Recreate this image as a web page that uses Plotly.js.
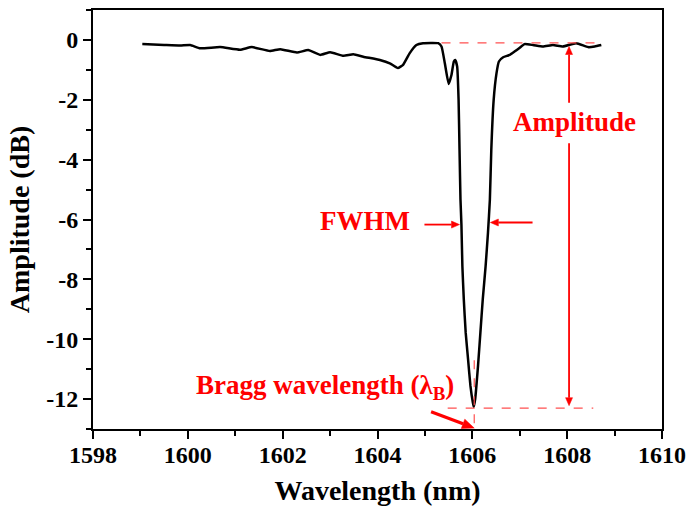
<!DOCTYPE html>
<html>
<head>
<meta charset="utf-8">
<script src="https://cdn.plot.ly/plotly-3.0.1.min.js"></script>
<style>html,body{margin:0;padding:0;background:#fff;}</style>
</head>
<body>
<div id="chart" style="width:688px;height:506px;"></div>
<script>
// Measured spectrum (wavelength in nm, amplitude in dB)
const wavelength = [
  1599.04, 1599.5, 1599.84, 1600.05, 1600.26, 1600.68, 1601.1, 1601.35, 1601.73, 1601.95,
  1602.3, 1602.54, 1602.79, 1603.0, 1603.28, 1603.49, 1603.7, 1604.05, 1604.26, 1604.43,
  1604.54, 1604.68, 1604.82, 1604.96, 1605.28, 1605.35, 1605.42, 1605.50, 1605.56, 1605.61,
  1605.64, 1605.68, 1605.71, 1605.73, 1605.75, 1605.77, 1605.79, 1605.82, 1605.86, 1605.91,
  1605.96, 1606.01, 1606.03, 1606.06, 1606.12, 1606.17, 1606.22, 1606.28, 1606.33, 1606.37,
  1606.40, 1606.45, 1606.51, 1606.56, 1606.65, 1606.79, 1606.89, 1607.0, 1607.10, 1607.28,
  1607.49, 1607.70, 1607.91, 1608.19, 1608.44, 1608.58, 1608.72
];
const amplitude = [
  -0.14, -0.17, -0.19, -0.17, -0.28, -0.24, -0.33, -0.24, -0.37, -0.31,
  -0.42, -0.34, -0.50, -0.41, -0.53, -0.48, -0.56, -0.67, -0.78, -0.94,
  -0.83, -0.44, -0.17, -0.11, -0.11, -0.22, -0.78, -1.47, -1.17, -0.72,
  -0.67, -0.89, -2.0, -3.67, -5.33, -6.17, -7.56, -8.67, -9.78, -10.67,
  -11.56, -12.11, -12.26, -12.0, -10.89, -9.78, -8.67, -7.56, -6.44, -5.33,
  -3.67, -2.0, -1.11, -0.72, -0.58, -0.5, -0.39, -0.26, -0.14, -0.17,
  -0.22, -0.17, -0.22, -0.11, -0.24, -0.22, -0.17
];
const xTickVals = [1598, 1600, 1602, 1604, 1606, 1608, 1610];
const xTickText = ["1598", "1600", "1602", "1604", "1606", "1608", "1610"];
const yTickVals = [0, -2, -4, -6, -8, -10, -12];
const yTickText = ["0", "-2", "-4", "-6", "-8", "-10", "-12"];

// Annotation reference values
const braggWl = 1606.04;
const braggMin = -12.3;
const baseLevel = -0.1;
const ampX = 1608.04;

const FONT = "Liberation Serif";
const RED = "#ff0000";
const DASHRED = "#ff5050";

const W = 688, H = 506;
const margin = {l: 93, r: 26, t: 10, b: 77};
const xRange = [1598, 1610], yRange = [-13, 1];
const sx = (W - margin.l - margin.r) / (xRange[1] - xRange[0]);
const sy = (H - margin.t - margin.b) / (yRange[1] - yRange[0]);

// arrow built from a shaft line and a filled head, in data coordinates
function arrow(x0, y0, x1, y1, width, headLen, headHalf) {
  const dx = (x1 - x0) * sx, dy = (y1 - y0) * sy;
  const L = Math.hypot(dx, dy);
  const ux = dx / L, uy = dy / L;
  const bx = x1 - ux * headLen / sx, by = y1 - uy * headLen / sy;
  const lx = bx - uy * headHalf / sx, ly = by + ux * headHalf / sy;
  const rx = bx + uy * headHalf / sx, ry = by - ux * headHalf / sy;
  return [
    {type: "line", xref: "x", yref: "y", x0: x0, y0: y0, x1: bx, y1: by,
     line: {color: RED, width: width}},
    {type: "path", xref: "x", yref: "y",
     path: `M${x1},${y1} L${lx},${ly} L${rx},${ry} Z`,
     fillcolor: RED, line: {color: RED, width: 0.5}}
  ];
}

const trace = {
  x: wavelength, y: amplitude, type: "scatter", mode: "lines",
  line: {color: "#000", width: 2.5, shape: "spline", smoothing: 0.4}, hoverinfo: "skip", showlegend: false
};

const tickFont = {family: FONT, size: 24, color: "#000", weight: "bold"};
const titleFont = {family: FONT, size: 28, color: "#000", weight: "bold"};

function axis(extra) {
  return Object.assign({
    showline: true, linecolor: "#000", linewidth: 2, mirror: true,
    ticks: "outside", ticklen: 8, tickwidth: 2, tickcolor: "#000",
    showgrid: false, zeroline: false, tickfont: tickFont
  }, extra);
}

const layout = {
  width: W, height: H, margin: margin,
  font: {family: FONT, color: "#000", size: 20},
  paper_bgcolor: "#fff", plot_bgcolor: "#fff",
  showlegend: false,
  xaxis: axis({
    range: xRange, tickmode: "array", tickvals: xTickVals, ticktext: xTickText,
    ticklabelstandoff: -5,
    minor: {dtick: 1, tick0: 1598, ticklen: 5, tickwidth: 2, tickcolor: "#000", ticks: "outside", showgrid: false},
    title: {text: "Wavelength (nm)", font: titleFont, standoff: 15}
  }),
  yaxis: axis({
    range: yRange, tickmode: "array", tickvals: yTickVals, ticktext: yTickText,
    minor: {dtick: 1, tick0: 0, ticklen: 5, tickwidth: 2, tickcolor: "#000", ticks: "outside", showgrid: false},
    title: {text: "Amplitude (dB)", font: titleFont, standoff: 8}
  }),
  shapes: [
    {type: "line", xref: "x", yref: "y", x0: 1605.35, x1: 1608.72, y0: baseLevel, y1: baseLevel,
     line: {color: DASHRED, width: 1.2, dash: "dash"}},
    {type: "line", xref: "x", yref: "y", x0: 1605.48, x1: 1608.55, y0: braggMin, y1: braggMin,
     line: {color: DASHRED, width: 1.2, dash: "dash"}},
    {type: "line", xref: "x", yref: "y", x0: braggWl, x1: braggWl, y0: -10.7, y1: -13.5,
     line: {color: DASHRED, width: 1.2, dash: "dash"}}
  ].concat(
    arrow(ampX, -2.1, ampX, -0.22, 1.8, 8, 3.5),
    arrow(ampX, -3.45, ampX, -12.22, 1.8, 8, 3.5),
    arrow(1604.99, -6.17, 1605.73, -6.17, 1.8, 8, 3.5),
    arrow(1607.27, -6.1, 1606.38, -6.1, 1.8, 8, 3.5),
    arrow(1605.13, -12.42, braggWl, -12.97, 3.2, 12, 5)
  ),
  annotations: [
    {x: ampX, y: -2.75, xref: "x", yref: "y", text: "Amplitude", showarrow: false,
     font: {family: FONT, size: 27, color: RED, weight: "bold"}, xanchor: "center", yanchor: "middle", xshift: 5},
    {x: 1603.73, y: -6.05, xref: "x", yref: "y", text: "FWHM", showarrow: false,
     font: {family: FONT, size: 27, color: RED, weight: "bold"}, xanchor: "center", yanchor: "middle"},
    {x: 1602.9, y: -11.6, xref: "x", yref: "y", text: "Bragg wavelength (λ<sub>B</sub>)", showarrow: false,
     font: {family: FONT, size: 27, color: RED, weight: "bold"}, xanchor: "center", yanchor: "middle"}
  ]
};

Plotly.newPlot("chart", [trace], layout, {staticPlot: true, displayModeBar: false});
</script>
</body>
</html>
